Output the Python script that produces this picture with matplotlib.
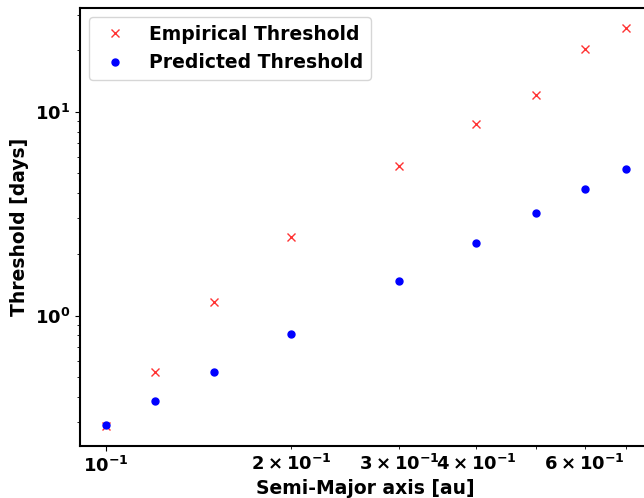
import matplotlib
matplotlib.use("Agg")
import matplotlib.pyplot as plt

# semi-major axis [au]
semi_major = [0.1, 0.12, 0.15, 0.2, 0.3, 0.4, 0.5, 0.6, 0.7]
# thresholds [days]
empirical = [0.286, 0.526, 1.17, 2.44, 5.43, 8.73, 12.1, 20.4, 25.8]
predicted = [0.289, 0.379, 0.531, 0.807, 1.48, 2.28, 3.20, 4.19, 5.26]

plt.rcParams['font.weight'] = 'bold'
plt.rcParams['axes.labelweight'] = 'bold'

fig = plt.figure(figsize=(6.44, 4.98), dpi=100)
ax = fig.add_axes([0.124, 0.104, 0.888, 0.880])
ax.plot(semi_major, empirical, 'rx', markersize=6, alpha=0.8, label='Empirical Threshold')
ax.plot(semi_major, predicted, 'bo', markersize=5, label='Predicted Threshold')
ax.set_xscale('log')
ax.set_yscale('log')
ax.set_xlabel('Semi-Major axis [au]', fontsize=13.5, labelpad=2)
ax.set_ylabel('Threshold [days]', fontsize=13.5)
ax.tick_params(which='both', labelsize=13)
for s in ax.spines.values():
    s.set_linewidth(1.5)
ax.legend(loc='upper left', fontsize=13.5)

fig.savefig('out.png', dpi=100)
